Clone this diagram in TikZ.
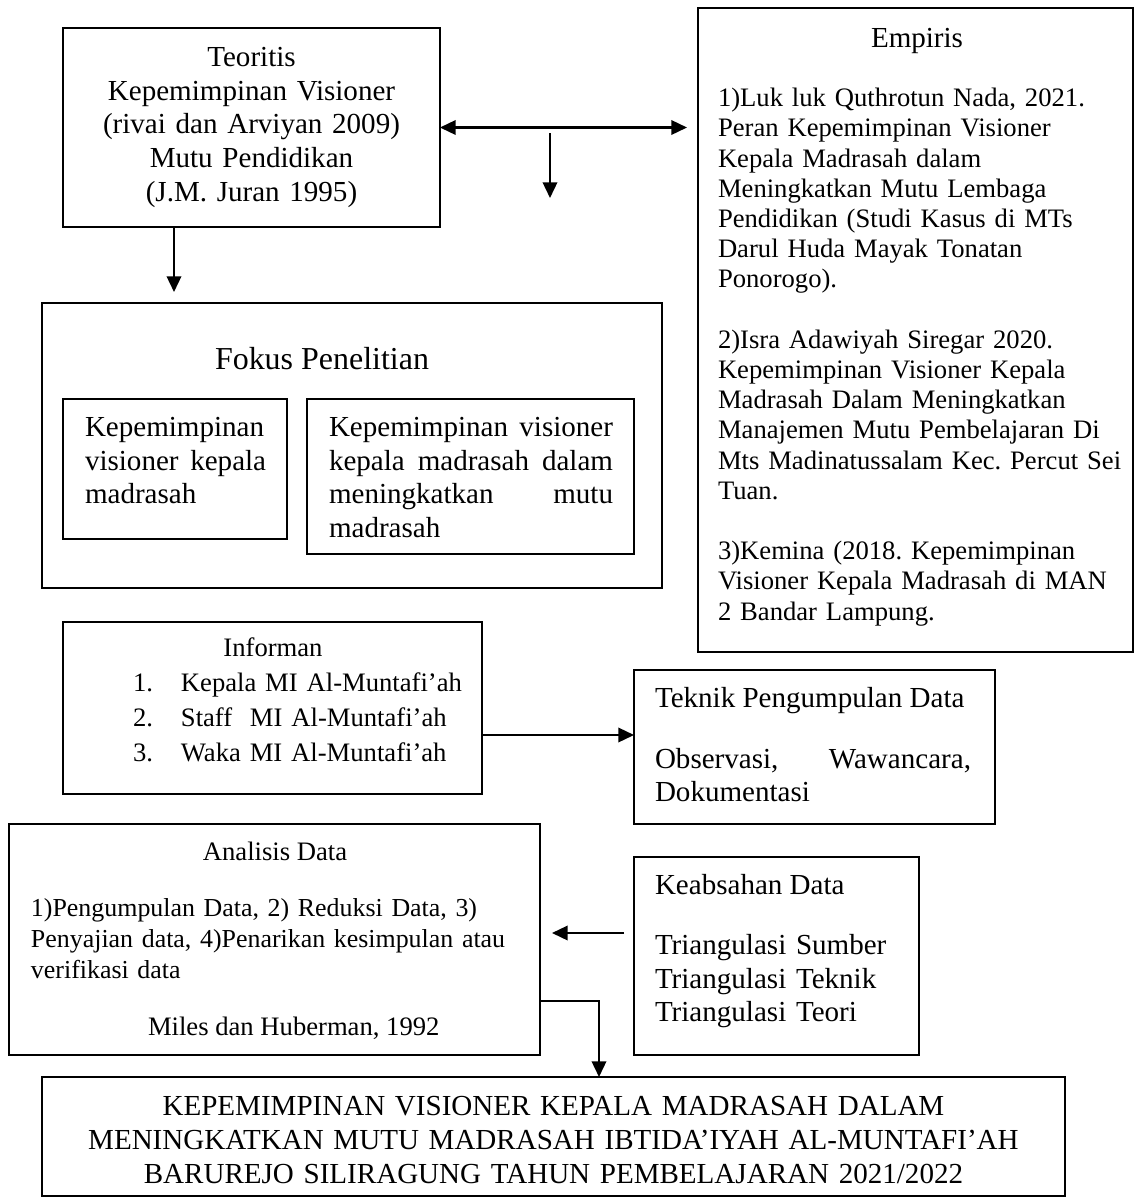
\documentclass[tikz,border=0pt]{standalone}
\usepackage{fontspec}
\setmainfont{Liberation Serif}
\usetikzlibrary{arrows.meta,fit}
\frenchspacing
\newcommand\jline[2]{\leavevmode\hbox to #1{#2}}
\begin{document}
\begin{tikzpicture}[x=0.413pt,y=-0.413pt,
  box/.style={draw,line width=0.75pt,inner sep=0pt,outer sep=0pt},
  arr/.style={line width=0.85pt,-{Triangle[length=6.5pt,width=6pt]}},
  darr/.style={line width=0.85pt,{Triangle[length=6.5pt,width=6pt]}-{Triangle[length=6.5pt,width=6pt]}},
  txt/.style={inner sep=0pt,outer sep=0pt},
  f12/.style={font=\fontsize{12}{13.9}\selectfont\frenchspacing},
  f12k/.style={font=\fontsize{12}{13.85}\selectfont\frenchspacing},
  f12t/.style={font=\fontsize{12}{13.6}\selectfont\frenchspacing},
  f11/.style={font=\fontsize{11}{12.47}\selectfont\frenchspacing},
  f11l/.style={font=\fontsize{11}{14.45}\selectfont\frenchspacing},
  f11a/.style={font=\fontsize{10.7}{12.8}\selectfont\frenchspacing},
  f12c/.style={font=\fontsize{12}{14.04}\selectfont\frenchspacing},
  f14/.style={font=\fontsize{13.2}{15.5}\selectfont\frenchspacing},
]
\useasboundingbox (0,0) rectangle (1135,1198);

% boxes
\node[box, fit={(63,28)(440,227)}] (teo) {};
\node[box, fit={(698,8)(1133,652)}] (emp) {};
\node[box, fit={(42,303)(662,588)}] (fok) {};
\node[box, fit={(63,399)(287,539)}] (kone) {};
\node[box, fit={(307,399)(634,554)}] (ktwo) {};
\node[box, fit={(63,622)(482,794)}] (inf) {};
\node[box, fit={(634,670)(995,824)}] (tek) {};
\node[box, fit={(9,824)(540,1055)}] (ana) {};
\node[box, fit={(634,857)(919,1055)}] (kea) {};
\node[box, fit={(42,1077)(1065,1196)}] (con) {};

% texts
\node[txt,f12,text width=150pt,align=center,anchor=base] (teotxt) at (251.5,66.6)
  {Teoritis\\Kepemimpinan Visioner\\(rivai dan Arviyan 2009)\\Mutu Pendidikan\\(J.M. Juran 1995)};

\node[txt,f12,anchor=base] (emptitle) at (917,47.6) {Empiris};
\node[txt,f11,text width=172pt,align=left,anchor=base west] (emptxt) at (718,106.8)
  {1)Luk luk Quthrotun Nada, 2021.\\Peran Kepemimpinan Visioner\\Kepala Madrasah dalam\\Meningkatkan Mutu Lembaga\\Pendidikan (Studi Kasus di MTs\\Darul Huda Mayak Tonatan\\Ponorogo).\\[12.47pt]2)Isra Adawiyah Siregar 2020.\\Kepemimpinan Visioner Kepala\\Madrasah Dalam Meningkatkan\\Manajemen Mutu Pembelajaran Di\\Mts Madinatussalam Kec. Percut Sei\\Tuan.\\[12.47pt]3)Kemina (2018. Kepemimpinan\\Visioner Kepala Madrasah di MAN\\2 Bandar Lampung.};

\node[txt,f14,anchor=base west] (foktitle) at (215,369.2) {Fokus Penelitian};
\node[txt,f12k,text width=74.8pt,align=left,anchor=base west] (konetxt) at (85,436.6)
  {Kepemimpinan\\\jline{74.8pt}{visioner\hfill kepala}\\madrasah};
\node[txt,f12k,text width=117.3pt,align=left,anchor=base west] (ktwotxt) at (329,436.6)
  {\jline{117.3pt}{Kepemimpinan\hfill visioner}\\\jline{117.3pt}{kepala\hfill madrasah\hfill dalam}\\\jline{117.3pt}{meningkatkan\hfill mutu}\\madrasah};

\node[txt,f11,anchor=base] (inftitle) at (273,656.8) {Informan};
\node[txt,f11l,text width=150pt,align=left,anchor=base west] (inftxt) at (133,691.8)
  {\makebox[19.8pt][l]{1.}Kepala MI Al-Muntafi’ah\\\makebox[19.8pt][l]{2.}Staff\ \ MI Al-Muntafi’ah\\\makebox[19.8pt][l]{3.}Waka MI Al-Muntafi’ah};

\node[txt,f12,anchor=base west] (tektitle) at (655,707.6) {Teknik Pengumpulan Data};
\node[txt,f12t,text width=130.5pt,align=left,anchor=base west] (tektxt) at (655,768.6)
  {\jline{130.5pt}{Observasi,\hfill Wawancara,}\\Dokumentasi};

\node[txt,f11,anchor=base] (anatitle) at (275,860.8) {Analisis Data};
\node[txt,f11a,text width=208pt,align=left,anchor=base west] (anatxt) at (31,916.8)
  {1)Pengumpulan Data, 2) Reduksi Data, 3)\\Penyajian data, 4)Penarikan kesimpulan atau\\verifikasi data};
\node[txt,f11,anchor=base west] (anasrc) at (148,1035.8) {Miles dan Huberman, 1992};

\node[txt,f12,anchor=base west] (keatitle) at (655,894.6) {Keabsahan Data};
\node[txt,f12k,text width=110pt,align=left,anchor=base west] (keatxt) at (655,954.6)
  {Triangulasi Sumber\\Triangulasi Teknik\\Triangulasi Teori};

\node[txt,f12c,text width=412pt,align=center,anchor=base] (contxt) at (553.5,1115.6)
  {KEPEMIMPINAN VISIONER KEPALA MADRASAH DALAM\\MENINGKATKAN MUTU MADRASAH IBTIDA’IYAH AL-MUNTAFI’AH\\BARUREJO SILIRAGUNG TAHUN PEMBELAJARAN 2021/2022};

% connectors
\coordinate (empin) at (687,127.5);
\draw[darr] (teo.east) -- (teo.east -| empin);
\coordinate (dtop) at (550,133);
\coordinate (dbot) at (550,198);
\draw[arr] (dtop) -- (dbot);
\coordinate (fokin) at (174,292);
\draw[arr] (teo.south -| fokin) -- (fokin);
\coordinate (tekin) at (634,735);
\draw[arr] (inf.east |- tekin) -- (tek.west |- tekin);
\coordinate (keaout) at (624,933);
\coordinate (anain) at (552,933);
\draw[arr] (keaout) -- (anain);
\coordinate (anaout) at (540,1001);
\coordinate (conin) at (599,1077);
\draw[arr] (ana.east |- anaout) -| (con.north -| conin);
\end{tikzpicture}
\end{document}
